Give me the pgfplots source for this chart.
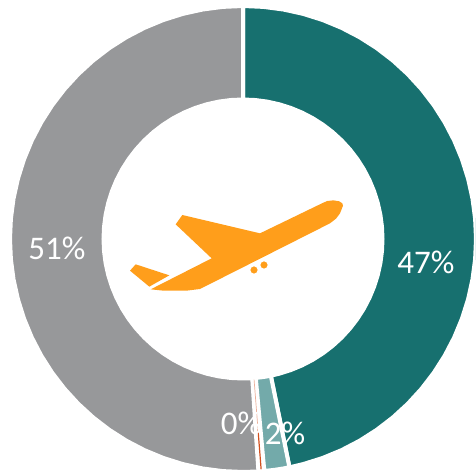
\documentclass[border=0pt]{standalone}
\usepackage{pgfplots}
\pgfplotsset{compat=1.18}
\usepackage{fontspec}
\setmainfont{Carlito}
\definecolor{cteal}{HTML}{17706F}
\definecolor{clight}{HTML}{73AAAA}
\definecolor{cgray}{HTML}{97989A}
\definecolor{cplane}{HTML}{FF9E1B}
\definecolor{cred}{HTML}{D2501E}
\begin{document}
\begin{tikzpicture}[x=1pt,y=1pt]
\path[use as bounding box] (0,0) rectangle (475,476);
\begin{axis}[
  at={(0pt,0pt)},anchor=south west,
  scale only axis,width=475pt,height=476pt,
  xmin=-243,xmax=232,ymin=-237,ymax=239,
  hide axis,clip=true]
% teal slice, 47 %
\addplot[data cs=polar,fill=cteal,draw=white,line width=4pt,line join=miter] coordinates {
(90,233)(85,233)(80,233)(75,233)(70,233)(65,233)(60,233)(55,233)(50,233)(45,233)(40,233)(35,233)(30,233)(25,233)(20,233)(15,233)(10,233)(5,233)(0,233)(-5,233)(-10,233)(-15,233)(-20,233)(-25,233)(-30,233)(-35,233)(-40,233)(-45,233)(-50,233)(-55,233)(-60,233)(-65,233)(-70,233)(-75,233)(-78.5,233)
(-78.5,139.5)(-75,139.5)(-70,139.5)(-65,139.5)(-60,139.5)(-55,139.5)(-50,139.5)(-45,139.5)(-40,139.5)(-35,139.5)(-30,139.5)(-25,139.5)(-20,139.5)(-15,139.5)(-10,139.5)(-5,139.5)(0,139.5)(5,139.5)(10,139.5)(15,139.5)(20,139.5)(25,139.5)(30,139.5)(35,139.5)(40,139.5)(45,139.5)(50,139.5)(55,139.5)(60,139.5)(65,139.5)(70,139.5)(75,139.5)(80,139.5)(85,139.5)(90,139.5)
} -- cycle;
% light teal slice, 2 %
\addplot[data cs=polar,fill=clight,draw=white,line width=4pt,line join=miter] coordinates {
(-78.5,233)(-80,233)(-82,233)(-84.75,233)(-84.75,139.5)(-82,139.5)(-80,139.5)(-78.5,139.5)
} -- cycle;
% grey slice, 51 %
\addplot[data cs=polar,fill=cgray,draw=white,line width=4pt,line join=miter] coordinates {
(-86.2,233)(-90,233)(-95,233)(-100,233)(-105,233)(-110,233)(-115,233)(-120,233)(-125,233)(-130,233)(-135,233)(-140,233)(-145,233)(-150,233)(-155,233)(-160,233)(-165,233)(-170,233)(-175,233)(-180,233)(-185,233)(-190,233)(-195,233)(-200,233)(-205,233)(-210,233)(-215,233)(-220,233)(-225,233)(-230,233)(-235,233)(-240,233)(-245,233)(-250,233)(-255,233)(-260,233)(-265,233)(-270,233)
(-270,139.5)(-265,139.5)(-260,139.5)(-255,139.5)(-250,139.5)(-245,139.5)(-240,139.5)(-235,139.5)(-230,139.5)(-225,139.5)(-220,139.5)(-215,139.5)(-210,139.5)(-205,139.5)(-200,139.5)(-195,139.5)(-190,139.5)(-185,139.5)(-180,139.5)(-175,139.5)(-170,139.5)(-165,139.5)(-160,139.5)(-155,139.5)(-150,139.5)(-145,139.5)(-140,139.5)(-135,139.5)(-130,139.5)(-125,139.5)(-120,139.5)(-115,139.5)(-110,139.5)(-105,139.5)(-100,139.5)(-95,139.5)(-90,139.5)(-86.2,139.5)
} -- cycle;
% red sliver, 0 %
\addplot[data cs=polar,draw=cred!45,line width=0.7pt] coordinates {(-85.5,141)(-85.5,191)};
\addplot[data cs=polar,draw=cred,line width=1.2pt] coordinates {(-85.5,191)(-85.5,231)};
% aeroplane: coordinates read in the 3x crop whose corner is (120,190)
\addplot[fill=cplane,draw=none] table[x expr=120+\thisrow{zx}/3-243,y expr=239-190-\thisrow{zy}/3] {
zx zy
669 47
667 40
658 34
640 31
622 33
608 39
420 130
187 75
167 103
275 205
92 298
130 302
200 302
240 297
630 100
648 86
660 70
} -- cycle;
\addplot[fill=cplane,draw=none] table[x expr=120+\thisrow{zx}/3-243,y expr=239-190-\thisrow{zy}/3] {
zx zy
47 223
30 242
88 290
148 256
} -- cycle;
\addplot[only marks,mark=*,mark size=3.4pt,mark options={solid,fill=cplane,draw=cplane,line width=0.1pt,line join=round}] table[x expr=120+\thisrow{zx}/3-243,y expr=239-190-\thisrow{zy}/3] {
zx zy
402 240
432 225
};
\begin{scope}[every node/.style={text=white,font=\fontsize{33}{33}\selectfont,inner sep=0pt,anchor=center}]
\node at (axis cs:183,-23) {47\%};
\node at (axis cs:-186,-9) {51\%};
\node at (axis cs:-2,-184) {0\%};
\node at (axis cs:42,-194) {2\%};
\end{scope}
\end{axis}
\end{tikzpicture}
\end{document}
